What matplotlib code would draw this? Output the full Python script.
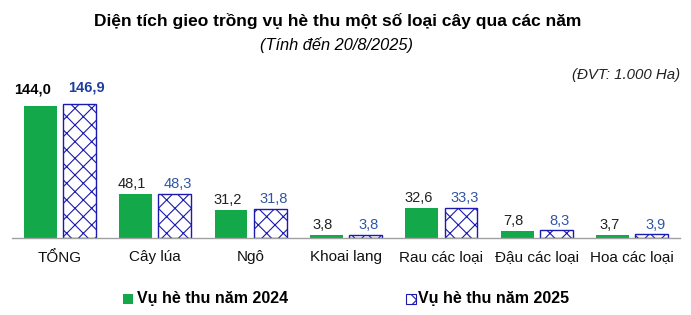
import matplotlib
matplotlib.use("Agg")
import matplotlib.pyplot as plt
import numpy as np
from matplotlib.patches import Rectangle

plt.rcParams['font.family'] = ['Liberation Sans', 'DejaVu Sans']
plt.rcParams['hatch.linewidth'] = 0.8

categories = ["TỔNG", "Cây lúa", "Ngô", "Khoai lang", "Rau các loại", "Đậu các loại", "Hoa các loại"]
vals_2024 = [144.0, 48.1, 31.2, 3.8, 32.6, 7.8, 3.7]
vals_2025 = [146.9, 48.3, 31.8, 3.8, 33.3, 8.3, 3.9]
series_names = ["Vụ hè thu năm 2024", "Vụ hè thu năm 2025"]

GREEN = "#13A84A"
BLUE = "#1A1AB0"
LBLUE = "#2F56A6"

fig = plt.figure(figsize=(6.91, 3.15), dpi=100)
ax = fig.add_axes([12/691, 1 - 238/315, (680 - 12)/691, 158/315])

x = np.arange(len(categories))
w = 0.345
off = 0.205
ax.bar(x - off, vals_2024, w, color=GREEN, edgecolor=GREEN, linewidth=0)
ax.bar(x + off, vals_2025, w, color="white", edgecolor=BLUE, hatch="xx", linewidth=1.0)

for i, (a, b) in enumerate(zip(vals_2024, vals_2025)):
    bold = (i == 0)
    pad = 7 if bold else 2
    dx = 5.5 if bold else 2.5
    ax.annotate(f"{a:.1f}".replace(".", ","), (x[i] - off, a), xytext=(-dx, pad),
                textcoords="offset points", ha="center", va="bottom",
                fontsize=10.5, fontweight="bold" if bold else "normal",
                color="black" if bold else "#222222")
    ax.annotate(f"{b:.1f}".replace(".", ","), (x[i] + off, b), xytext=(dx, pad),
                textcoords="offset points", ha="center", va="bottom",
                fontsize=10.5, fontweight="bold" if bold else "normal",
                color="#1F3FA0" if bold else LBLUE)

ax.set_xlim(-0.5, len(categories) - 0.5)
ax.set_ylim(0, 173)
ax.set_yticks([])
ax.set_xticks(x)
ax.set_xticklabels(categories, fontsize=11, color="#111111")
ax.tick_params(axis="x", length=0, pad=9)
for s in ["top", "right", "left"]:
    ax.spines[s].set_visible(False)
ax.spines["bottom"].set_color("#A0A0A0")
ax.spines["bottom"].set_linewidth(1.0)

fig.text(338/691, 1 - 21/315, "Diện tích gieo trồng vụ hè thu một số loại cây qua các năm",
         ha="center", va="center", fontsize=12.5, fontweight="bold")
fig.text(336/691, 1 - 45/315, "(Tính đến 20/8/2025)", ha="center", va="center",
         fontsize=11.8, style="italic")
fig.text(680/691, 1 - 75/315, "(ĐVT: 1.000 Ha)", ha="right", va="center",
         fontsize=10.8, style="italic", color="#222222")

# legend
lx1, lx2, ly = 123/691, 406/691, 1 - 299/315
sw, sh = 10/691, 10/315
fig.patches.append(Rectangle((lx1, ly - sh/2), sw, sh, transform=fig.transFigure,
                             facecolor=GREEN, edgecolor=GREEN, linewidth=0))
fig.patches.append(Rectangle((lx2, ly - sh/2), sw, sh, transform=fig.transFigure,
                             facecolor="white", edgecolor=BLUE, hatch="xx", linewidth=0.8))
fig.text(lx1 + 14/691, ly, series_names[0], ha="left", va="center", fontsize=11.5, fontweight="bold")
fig.text(lx2 + 12/691, ly, series_names[1], ha="left", va="center", fontsize=11.5, fontweight="bold")

fig.savefig("out.png", dpi=100, facecolor="white")
